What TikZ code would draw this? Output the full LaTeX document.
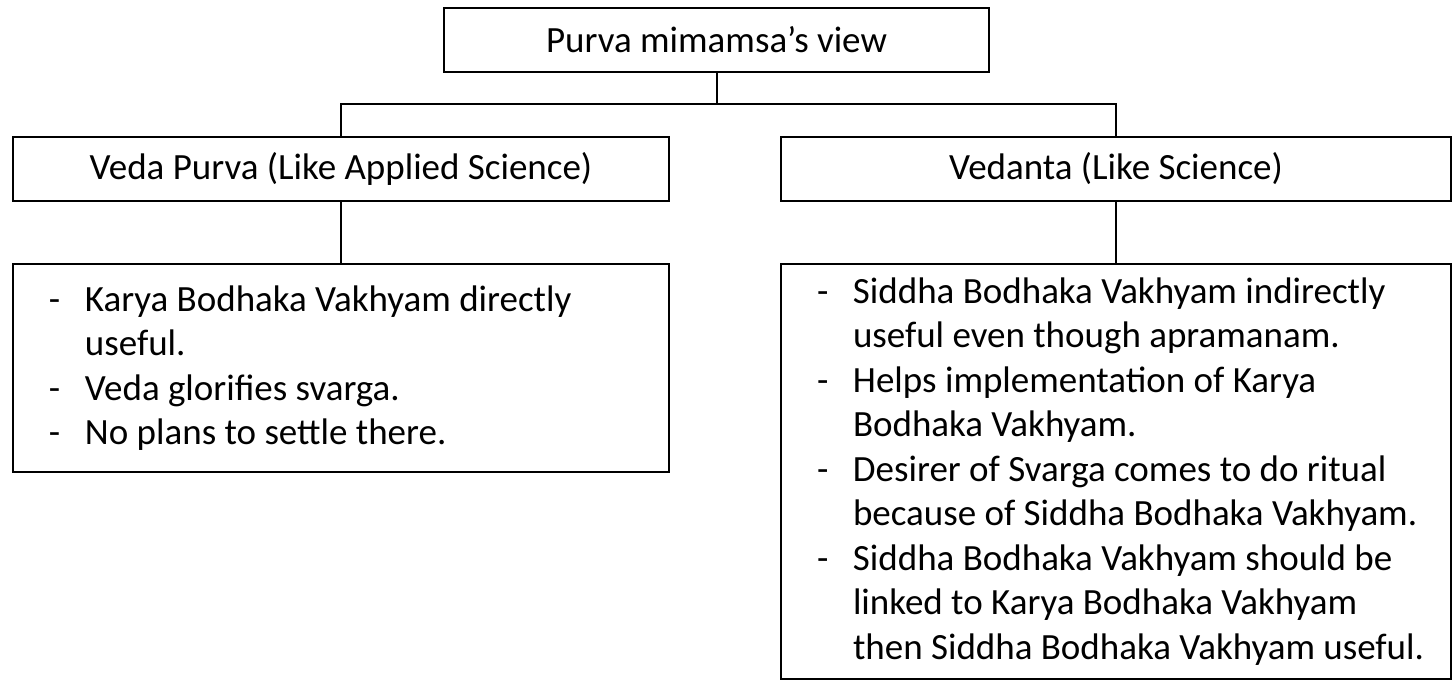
\documentclass[tikz,border=0pt]{standalone}
\usepackage{fontspec}
\setmainfont{Carlito}
\usetikzlibrary{positioning}

% one list line: a dash (or the hanging indent) and the text, kept on one line
\newcommand{\dsh}[1]{\makebox[36bp][l]{-}\makebox[0pt][l]{\spaceskip=0pt\xspaceskip=0pt #1}}
\newcommand{\hang}[1]{\hspace*{36bp}\makebox[0pt][l]{\spaceskip=0pt\xspaceskip=0pt #1}}

\begin{document}
\begin{tikzpicture}[x=1bp,y=-1bp,
	box/.style={draw, line width=2bp, rectangle, inner sep=0pt, outer sep=0pt,
		minimum height=64bp, font=\fontsize{37bp}{44bp}\selectfont},
	notes/.style={box, align=left, inner xsep=36bp, anchor=north,
		font=\fontsize{37bp}{44.5bp}\selectfont}]
	\useasboundingbox (0,0) rectangle (1453,680);

	\node[box, minimum width=545bp] (mimamsa) at (716.5,40) {Purva mimamsa’s view};
	\node[box, minimum width=656bp] (vpurva) at (341,169) {Veda Purva (Like Applied Science)};
	\node[box, minimum width=670bp] (vedanta) at (1116,169) {Vedanta (Like Science)};

	\node[notes, below=63bp of vpurva, text width=584bp, minimum height=208bp] (vpurvanotes)
		{\dsh{Karya Bodhaka Vakhyam directly}\\
		 \hang{useful.}\\
		 \dsh{Veda glorifies svarga.}\\
		 \dsh{No plans to settle there.}};
	\node[notes, below=63bp of vedanta, text width=598bp, minimum height=415bp] (vedantanotes)
		{\dsh{Siddha Bodhaka Vakhyam indirectly}\\
		 \hang{useful even though apramanam.}\\
		 \dsh{Helps implementation of Karya}\\
		 \hang{Bodhaka Vakhyam.}\\
		 \dsh{Desirer of Svarga comes to do ritual}\\
		 \hang{because of Siddha Bodhaka Vakhyam.}\\
		 \dsh{Siddha Bodhaka Vakhyam should be}\\
		 \hang{linked to Karya Bodhaka Vakhyam}\\
		 \hang{then Siddha Bodhaka Vakhyam useful.}};

	% connectors
	\draw[line width=2bp] (mimamsa.south) -- ++(0,32) coordinate (hub);
	\draw[line width=2bp] (vpurva.north) |- (hub) -| (vedanta.north);
	\draw[line width=2bp] (vpurva.south) -- (vpurvanotes.north);
	\draw[line width=2bp] (vedanta.south) -- (vedantanotes.north);
\end{tikzpicture}
\end{document}
